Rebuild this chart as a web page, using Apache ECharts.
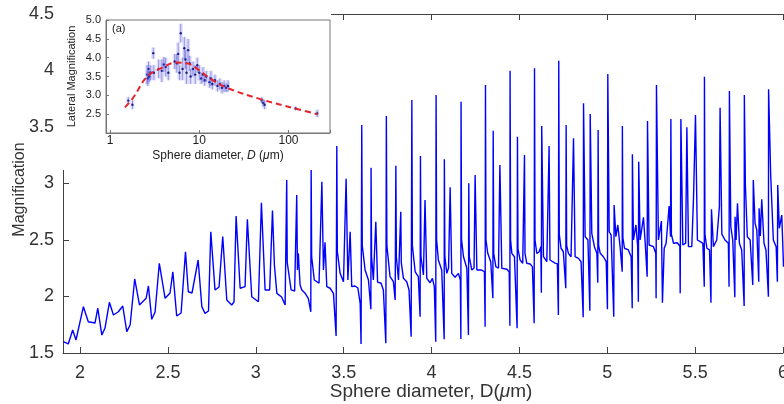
<!DOCTYPE html>
<html>
<head>
<meta charset="utf-8">
<script src="https://cdn.jsdelivr.net/npm/echarts@6/dist/echarts.min.js"></script>
<style>html,body{margin:0;padding:0;background:#fff}#c{width:784px;height:404px}</style>
</head>
<body>
<div id="c"></div>
<script>
// ---- main curve: sphere diameter (um) vs magnification ----
const mainD = [1.905,1.933,1.958,1.977,2.019,2.047,2.085,2.101,2.124,2.142,
2.167,2.190,2.218,2.243,2.266,2.285,2.311,2.338,2.376,2.389,
2.408,2.427,2.451,2.484,2.512,2.528,2.550,2.575,2.600,2.616,
2.637,2.672,2.693,2.711,2.731,2.744,2.768,2.791,2.812,2.835,
2.863,2.876,2.888,2.911,2.939,2.952,2.977,3.015,3.032,3.053,
3.079,3.095,3.106,3.120,3.147,3.167,3.176,3.179,3.201,3.221,3.233,
3.237,3.242,3.252,3.262,3.281,3.299,3.313,3.315,3.318,3.333,3.360,3.376,3.385,
3.394,3.404,3.423,3.442,3.457,3.461,3.464,3.480,3.499,3.514,3.524,
3.537,3.546,3.565,3.581,3.594,3.599,3.603,3.606,3.622,3.641,3.655,
3.656,3.659,3.669,3.683,3.693,3.713,3.726,3.740,3.743,3.746,3.764,3.783,
3.793,3.797,3.800,3.812,3.825,3.828,3.840,3.859,3.872,3.884,3.888,3.891,3.907,
3.925,3.935,3.937,3.940,3.954,3.960,3.963,3.973,3.992,4.005,4.016,
4.024,4.026,4.029,4.039,4.058,4.072,4.073,4.076,4.087,4.097,4.106,4.115,
4.134,4.153,4.164,4.167,4.168,4.171,4.182,4.201,4.210,4.212,4.215,4.229,
4.242,4.248,4.258,4.282,4.301,4.305,4.307,4.310,4.320,4.337,4.349,
4.351,4.354,4.366,4.381,4.389,4.400,4.429,4.442,4.446,4.447,4.450,4.457,
4.472,4.487,4.489,4.492,4.504,4.519,4.529,4.532,4.542,4.561,4.574,4.584,
4.586,4.589,4.599,4.612,4.622,4.625,4.627,4.637,4.656,4.669,4.674,
4.703,4.716,4.722,4.724,4.727,4.737,4.750,4.764,4.766,4.769,4.779,4.794,
4.808,4.817,4.836,4.851,4.863,4.865,4.874,4.890,4.901,4.903,
4.912,4.927,4.941,4.946,4.948,4.951,4.960,4.978,4.994,5.001,5.003,
5.011,5.022,5.037,5.039,5.049,5.060,5.073,5.085,5.086,5.089,5.098,
5.120,5.136,5.142,5.143,5.149,5.163,5.173,5.177,5.179,5.187,
5.206,5.216,5.225,5.227,5.229,5.238,5.263,5.276,5.278,5.280,
5.291,5.308,5.314,5.324,5.335,5.352,5.360,5.362,5.365,5.377,5.398,
5.413,5.415,5.419,5.430,5.446,5.453,5.462,5.481,5.491,5.502,
5.513,5.529,5.544,5.552,5.553,5.556,5.567,5.582,5.590,5.593,5.604,
5.623,5.638,5.642,5.652,5.670,5.689,5.693,5.695,5.703,5.714,
5.726,5.727,5.733,5.741,5.752,5.765,5.779,5.780,5.786,5.797,
5.813,5.828,5.831,5.841,5.851,5.862,5.864,5.871,5.879,5.892,
5.903,5.917,5.918,5.930,5.945,5.961,5.968,5.970,5.979,5.993,6.003];
const mainMag = [1.600,1.580,1.704,1.615,1.910,1.777,1.765,1.896,1.659,1.721,
1.949,1.836,1.865,1.916,1.689,1.748,2.155,1.925,1.984,2.093,
1.798,1.863,2.294,1.984,2.031,2.219,1.827,1.854,2.396,2.042,
2.031,2.323,1.910,1.851,1.872,2.573,2.058,2.084,2.531,1.969,
1.925,1.951,2.712,2.073,2.087,2.683,1.998,1.954,2.830,2.058,
2.058,2.761,2.279,2.028,1.996,1.925,3.031,2.300,2.058,2.049,2.898,
2.235,2.382,2.102,2.058,2.028,1.984,1.865,3.135,2.350,2.146,2.119,3.016,2.235,
2.480,2.087,2.073,2.028,1.650,3.332,2.400,2.205,2.131,3.042,2.146,
2.573,2.087,2.093,2.075,1.940,1.580,3.518,2.450,2.235,2.146,1.887,
3.140,2.350,2.146,2.662,2.128,2.117,2.058,1.586,3.597,2.450,2.175,2.131,
1.969,3.158,2.350,2.146,2.750,2.300,2.161,2.131,2.058,1.644,3.739,2.450,2.219,
2.175,1.821,3.243,2.350,2.190,2.181,2.854,2.161,2.122,2.161,2.087,
1.600,3.783,2.500,2.323,2.235,1.621,3.214,2.350,2.205,2.252,2.966,2.205,
2.170,2.205,2.146,1.624,3.724,2.500,2.352,2.250,1.659,3.002,2.350,2.235,
2.252,3.075,2.235,2.235,2.219,1.733,3.872,2.500,2.382,2.308,1.984,
3.467,2.380,2.264,2.250,3.164,2.250,2.241,2.217,1.742,3.998,2.500,2.382,
2.352,1.719,3.414,2.420,2.323,2.294,3.252,2.380,2.294,2.288,2.264,1.763,
4.019,2.500,2.382,2.394,2.441,2.034,3.509,2.352,2.308,3.332,2.323,
2.296,2.288,1.836,4.087,2.550,2.427,2.396,2.073,3.518,2.450,2.382,2.352,
3.400,2.352,2.338,2.308,1.816,3.710,2.529,2.500,1.874,3.615,
2.559,2.441,2.382,2.122,3.473,2.450,2.382,2.352,2.308,1.887,3.969,
2.573,2.544,1.821,2.810,2.529,2.633,2.441,2.219,3.509,2.520,2.427,
2.412,2.352,1.896,3.258,2.500,2.633,2.447,1.954,3.193,2.500,
2.701,2.471,2.456,2.175,3.553,2.456,2.441,2.382,1.984,3.872,
2.500,2.668,1.945,2.427,2.471,2.801,2.529,3.571,2.550,2.471,2.476,
2.447,2.028,3.571,2.456,2.473,3.497,2.441,2.441,2.883,3.606,
2.500,2.485,2.471,2.087,3.945,2.550,2.427,2.412,1.945,2.772,2.441,
2.500,2.795,3.671,2.552,2.500,2.471,2.087,3.818,2.618,2.500,
1.993,2.706,2.500,2.825,2.471,2.412,1.916,3.783,2.987,2.529,
2.500,2.102,3.031,2.648,2.588,2.131,2.781,2.535,2.860,2.471,
2.412,1.998,3.833,3.075,2.500,2.441,2.131,2.987,2.604,2.721,2.264];

// ---- inset (a): measured lateral magnification with error bars ----
const insetD   = [1.6,1.78,2.6,2.65,2.7,2.75,2.85,3.05,3.1,3.5,3.8,4.0,4.2,4.5,5.3,5.6,5.8,6.0,6.2,6.5,6.8,7.0,7.2,7.5,7.8,8.0,8.5,9.0,9.5,10,10.5,11,11.5,12,13,13.5,14,15,16,17,18,19,20,21,50,52,54,120,210];
const insetMag = [2.86,2.75,3.55,3.45,3.7,3.5,3.6,4.12,3.6,3.7,3.65,3.82,3.75,3.6,3.9,3.85,4.1,3.6,4.65,3.7,4.25,3.95,3.6,4.2,3.85,3.5,3.7,3.55,3.8,3.6,3.45,3.55,3.4,3.5,3.35,3.45,3.3,3.4,3.25,3.3,3.2,3.25,3.2,3.25,2.87,2.8,2.75,2.65,2.52];
const insetErr = [0.1,0.12,0.25,0.2,0.2,0.15,0.2,0.15,0.2,0.25,0.3,0.2,0.25,0.2,0.2,0.25,0.3,0.2,0.25,0.3,0.3,0.25,0.3,0.3,0.2,0.2,0.2,0.25,0.2,0.2,0.15,0.2,0.15,0.15,0.15,0.2,0.15,0.15,0.15,0.15,0.15,0.15,0.12,0.15,0.08,0.1,0.12,0.05,0.1];
// red dashed fit curve
const fitD   = [1.47,1.83,2.58,3.65,5.61,7.27,9.42,13.3,20.5,48.4,114.8,210];
const fitMag = [2.68,2.95,3.49,3.71,3.87,3.85,3.71,3.44,3.20,2.90,2.66,2.50];

// tick label sets
const mainYTicks = [1.5,2,2.5,3,3.5,4,4.5];
const insetXLabels = [1,10,100];

const mainData = mainD.map((d,i)=>[d, mainMag[i]]);
const insetData = insetD.map((d,i)=>[d, insetMag[i], insetErr[i]]);
const fitData = fitD.map((d,i)=>[d, fitMag[i]]);

const FONT = 'Liberation Sans, Arial, Helvetica, sans-serif';
const axisCol = '#404040';
const txtCol = '#333';

const chart = echarts.init(document.getElementById('c'), null, {renderer:'canvas'});
chart.setOption({
  animation:false,
  backgroundColor:'#fff',
  textStyle:{fontFamily:FONT},
  grid:[
    {left:63, right:1, top:14, bottom:51, outerBoundsMode:'none', containLabel:false},
    {left:106, top:20, width:224, height:113, outerBoundsMode:'none', containLabel:false,
     show:true, borderColor:'#777', borderWidth:1, backgroundColor:'#fff', z:20}
  ],
  graphic:[
    {type:'rect', shape:{x:58, y:0, width:273, height:170}, style:{fill:'#fff'}, z:15, silent:true},
    {type:'text', x:112, y:23, style:{text:'(a)', font:'11px '+FONT, fill:'#222'}, z:30}
  ],
  xAxis:[
    {gridIndex:0, type:'value', min:1.903, max:6, splitNumber:8,
     axisLine:{lineStyle:{color:axisCol, width:1}},
     axisTick:{inside:true, length:6, lineStyle:{color:axisCol}},
     splitLine:{show:false},
     axisLabel:{fontSize:18, color:txtCol, margin:11, fontFamily:FONT,
       formatter:v=>{const t=v*2; return Math.abs(t-Math.round(t))<1e-6 ? String(+v.toFixed(1)) : '';}},
     name:'Sphere diameter, D({i|μ}m)', nameLocation:'middle', nameGap:29, nameMoveOverlap:false,
     nameTextStyle:{fontSize:19, color:txtCol, fontFamily:FONT, padding:[0,0,0,16],
       rich:{i:{fontStyle:'italic', fontSize:19, color:txtCol, fontFamily:FONT}}}},
    {gridIndex:0, type:'value', position:'top', min:1.903, max:6, splitNumber:8,
     axisLine:{lineStyle:{color:axisCol, width:1}},
     axisTick:{inside:true, length:6, lineStyle:{color:axisCol}},
     splitLine:{show:false}, axisLabel:{show:false}},
    {gridIndex:1, type:'log', logBase:10, min:0.9, max:292, z:21,
     axisLine:{lineStyle:{color:'#777', width:1}},
     axisTick:{inside:true, length:3, lineStyle:{color:'#777'}},
     splitLine:{show:false},
     axisLabel:{fontSize:12, color:'#222', margin:2, fontFamily:FONT,
       formatter:v=>{const r=Math.round(v*1000)/1000; return insetXLabels.indexOf(r)>=0 ? String(r) : '';}},
     name:'Sphere diameter, {i|D} ({i|μ}m)', nameLocation:'middle', nameGap:17, nameMoveOverlap:false,
     nameTextStyle:{fontSize:12, color:'#222', fontFamily:FONT, rich:{i:{fontStyle:'italic', fontSize:12, color:'#222', fontFamily:FONT}}}}
  ],
  yAxis:[
    {gridIndex:0, type:'value', min:1.5, max:4.5, interval:0.5,
     axisLine:{lineStyle:{color:axisCol, width:1}},
     axisTick:{inside:true, length:6, lineStyle:{color:axisCol}},
     splitLine:{show:false},
     axisLabel:{fontSize:18, color:txtCol, margin:9, fontFamily:FONT,
       formatter:v=>mainYTicks.indexOf(+v.toFixed(1))>=0 ? String(+v.toFixed(1)) : ''},
     name:'Magnification', nameLocation:'middle', nameGap:35, nameMoveOverlap:false,
     nameTextStyle:{fontSize:16, color:txtCol, fontFamily:FONT, padding:[0,12,0,0]}},
    {gridIndex:1, type:'value', min:2, max:5, interval:0.5, z:21,
     axisLine:{lineStyle:{color:'#777', width:1}},
     axisTick:{inside:true, length:3, lineStyle:{color:'#777'}},
     splitLine:{show:false},
     axisLabel:{fontSize:11, color:'#222', margin:5, fontFamily:FONT,
       formatter:v=>Math.abs(v-2)<1e-9 ? '' : v.toFixed(1)},
     name:'Lateral Magnification', nameLocation:'middle', nameGap:29, nameMoveOverlap:false,
     nameTextStyle:{fontSize:11, color:'#222', fontFamily:FONT}}
  ],
  series:[
    {type:'line', xAxisIndex:0, yAxisIndex:0, data:mainData, showSymbol:false, symbol:'none',
     lineStyle:{color:'#0000ff', width:1.4}, z:2},
    {type:'custom', xAxisIndex:2, yAxisIndex:1, data:insetData, z:22,
     renderItem:(params, api)=>{
       const d=api.value(0), m=api.value(1), e=api.value(2);
       const c=api.coord([d,m]), t=api.coord([d,m+e]), b=api.coord([d,m-e]);
       return {type:'group', children:[
         {type:'rect', shape:{x:c[0]-2, y:t[1], width:4, height:b[1]-t[1]}, style:{fill:'rgba(110,110,230,0.22)'}},
         {type:'line', shape:{x1:c[0], y1:t[1], x2:c[0], y2:b[1]}, style:{stroke:'rgba(60,60,200,0.55)', lineWidth:0.8}},
         {type:'circle', shape:{cx:c[0], cy:c[1], r:1.2}, style:{fill:'#20208a'}}
       ]};
     }},
    {type:'line', xAxisIndex:2, yAxisIndex:1, data:fitData, showSymbol:false, symbol:'none', smooth:0.4,
     lineStyle:{color:'#e8232a', width:2, type:[6,4]}, z:23}
  ]
});
</script>
</body>
</html>
